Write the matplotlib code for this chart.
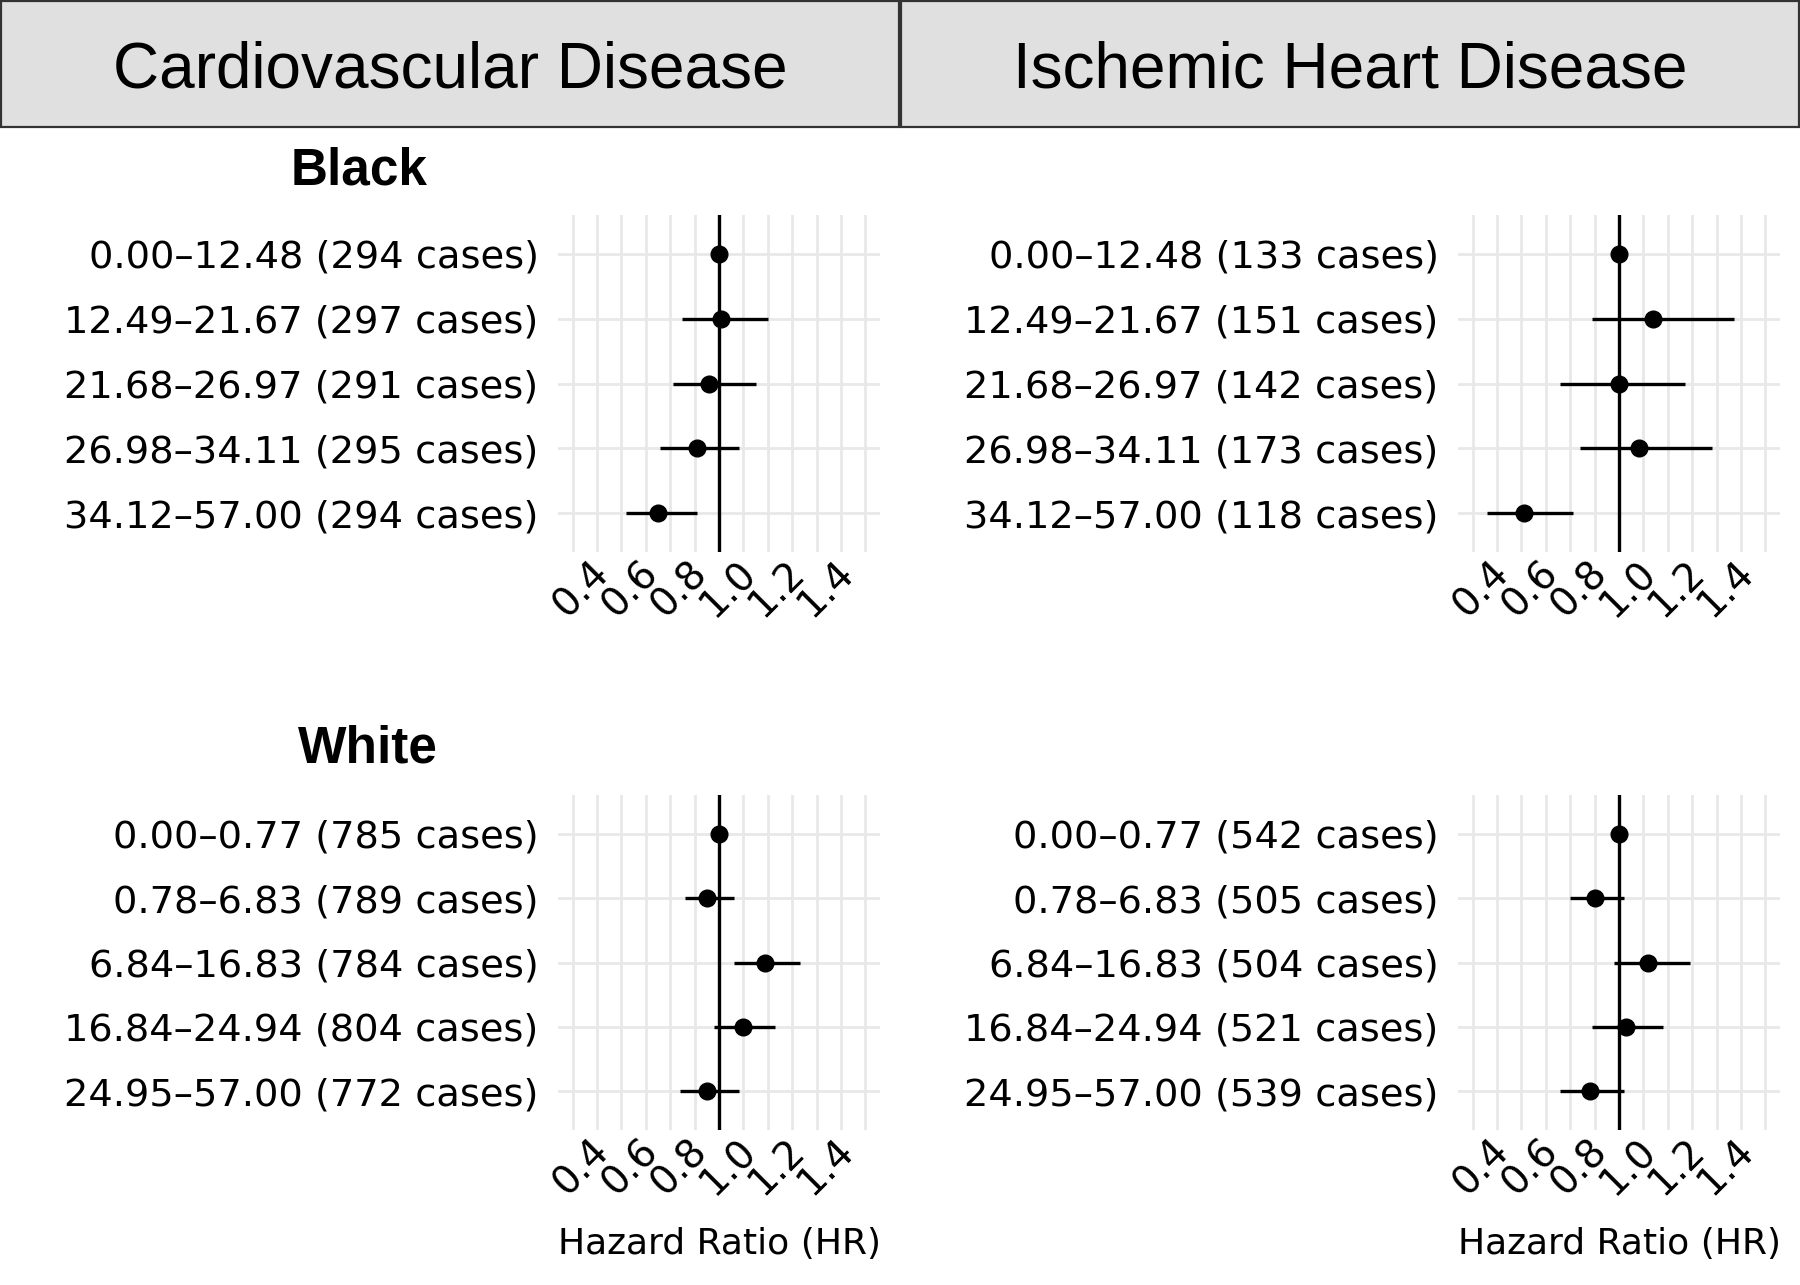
import numpy as np
import matplotlib
matplotlib.use('Agg')
import matplotlib.pyplot as plt
from matplotlib.patches import Rectangle
from matplotlib.transforms import ScaledTranslation

# Column (disease) titles and row (group) titles
diseases = ['Cardiovascular Disease', 'Ischemic Heart Disease']
groups = ['Black', 'White']

# Category labels per panel
cvd_black_labels = ['0.00–12.48 (294 cases)', '12.49–21.67 (297 cases)', '21.68–26.97 (291 cases)',
                    '26.98–34.11 (295 cases)', '34.12–57.00 (294 cases)']
ihd_black_labels = ['0.00–12.48 (133 cases)', '12.49–21.67 (151 cases)', '21.68–26.97 (142 cases)',
                    '26.98–34.11 (173 cases)', '34.12–57.00 (118 cases)']
cvd_white_labels = ['0.00–0.77 (785 cases)', '0.78–6.83 (789 cases)', '6.84–16.83 (784 cases)',
                    '16.84–24.94 (804 cases)', '24.95–57.00 (772 cases)']
ihd_white_labels = ['0.00–0.77 (542 cases)', '0.78–6.83 (505 cases)', '6.84–16.83 (504 cases)',
                    '16.84–24.94 (521 cases)', '24.95–57.00 (539 cases)']

# Hazard ratios and confidence limits
cvd_black_hr = [1.00, 1.01, 0.96, 0.91, 0.75]
cvd_black_lo = [1.00, 0.85, 0.81, 0.76, 0.62]
cvd_black_hi = [1.00, 1.20, 1.15, 1.08, 0.91]

ihd_black_hr = [1.00, 1.14, 1.00, 1.08, 0.61]
ihd_black_lo = [1.00, 0.89, 0.76, 0.84, 0.46]
ihd_black_hi = [1.00, 1.47, 1.27, 1.38, 0.81]

cvd_white_hr = [1.00, 0.95, 1.19, 1.10, 0.95]
cvd_white_lo = [1.00, 0.86, 1.06, 0.98, 0.84]
cvd_white_hi = [1.00, 1.06, 1.33, 1.23, 1.08]

ihd_white_hr = [1.00, 0.90, 1.12, 1.03, 0.88]
ihd_white_lo = [1.00, 0.80, 0.98, 0.89, 0.76]
ihd_white_hi = [1.00, 1.02, 1.29, 1.18, 1.02]

x_major = [0.4, 0.6, 0.8, 1.0, 1.2, 1.4]
x_minor = [0.5, 0.7, 0.9, 1.1, 1.3, 1.5, 1.6]

W, H = 1800, 1285
fig = plt.figure(figsize=(W / 100, H / 100), dpi=100)

label_font = 'DejaVu Sans'
title_font = 'Liberation Sans'


def px_box(x0, y0, x1, y1):
    # pixel box (top-left origin) -> figure fraction rect
    return [x0 / W, 1 - y1 / H, (x1 - x0) / W, (y1 - y0) / H]


def forest(ax, labels, hr, lo, hi, xlabel=None):
    y = np.arange(1, len(labels) + 1)
    ax.set_xlim(0.34, 1.66)
    ax.set_ylim(5.6, 0.4)

    ax.set_xticks(x_major)
    ax.set_xticks(x_minor, minor=True)
    ax.set_xticklabels(['%.1f' % v for v in x_major], rotation=45, ha='center', va='top',
                       fontsize=28, family=label_font)
    ax.set_yticks(y)
    ax.set_yticklabels(labels, fontsize=27.6, family=label_font)

    ax.tick_params(axis='both', which='both', length=0)
    ax.tick_params(axis='y', pad=14)
    ax.tick_params(axis='x', pad=1)
    ax.grid(True, which='both', color='#e8e8e8', linewidth=2.0)
    ax.set_axisbelow(True)
    for s in ax.spines.values():
        s.set_visible(False)

    # nudge rotated tick labels a little to the right
    offset = ScaledTranslation(9 / 100, 0, fig.dpi_scale_trans)
    for lbl in ax.get_xticklabels():
        lbl.set_transform(lbl.get_transform() + offset)

    ax.axvline(1.0, color='black', linewidth=2.4, zorder=2)
    ax.hlines(y, lo, hi, color='black', linewidth=2.4, zorder=3)
    ax.plot(hr, y, 'o', color='black', markersize=12, zorder=4)

    if xlabel:
        ax.set_xlabel(xlabel, fontsize=26, family=label_font, labelpad=18)


ax1 = fig.add_axes(px_box(558, 215, 880, 552))
forest(ax1, cvd_black_labels, cvd_black_hr, cvd_black_lo, cvd_black_hi)
ax2 = fig.add_axes(px_box(1458, 215, 1780, 552))
forest(ax2, ihd_black_labels, ihd_black_hr, ihd_black_lo, ihd_black_hi)
ax3 = fig.add_axes(px_box(558, 795, 880, 1130))
forest(ax3, cvd_white_labels, cvd_white_hr, cvd_white_lo, cvd_white_hi, 'Hazard Ratio (HR)')
ax4 = fig.add_axes(px_box(1458, 795, 1780, 1130))
forest(ax4, ihd_white_labels, ihd_white_hr, ihd_white_lo, ihd_white_hi, 'Hazard Ratio (HR)')

# Strip headers
for i, name in enumerate(diseases):
    x0 = 1 + i * 900
    fig.add_artist(Rectangle((x0 / W, 1 - 127 / H), 898 / W, 126 / H, transform=fig.transFigure,
                             facecolor='#e0e0e0', edgecolor='#333333', linewidth=1.6))
    fig.text((450 + i * 900) / W, 1 - 70 / H, name, ha='center', va='center',
             fontsize=46, family=title_font)

# Group titles
fig.text(359 / W, 1 - 171 / H, groups[0], ha='center', va='center', fontsize=37,
         fontweight='bold', family=title_font)
fig.text(368 / W, 1 - 749 / H, groups[1], ha='center', va='center', fontsize=37,
         fontweight='bold', family=title_font)

plt.savefig('out.png', dpi=100)
